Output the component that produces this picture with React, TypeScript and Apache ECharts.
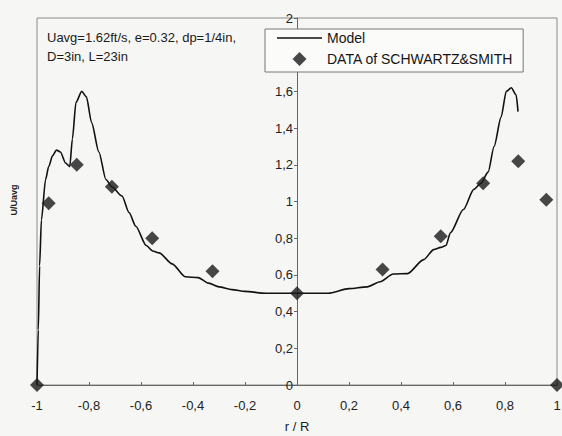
import React, { useEffect, useRef } from "react";
import * as echarts from "echarts";

const xTickLabels = ["-1", "-0,8", "-0,6", "-0,4", "-0,2", "0", "0,2", "0,4", "0,6", "0,8", "1"];
const yTickLabels = ["0", "0,2", "0,4", "0,6", "0,8", "1", "1,2", "1,4", "1,6", "1,8", "2"];

const modelR = [
  -1, -0.995, -0.99, -0.983, -0.967, -0.955, -0.94, -0.925, -0.91, -0.89, -0.874, -0.864,
  -0.85, -0.828, -0.81, -0.79, -0.762, -0.735, -0.712, -0.673, -0.646, -0.62, -0.58,
  -0.555, -0.53, -0.48, -0.43, -0.38, -0.34, -0.3, -0.25, -0.2, -0.12, 0, 0.12, 0.2,
  0.27, 0.32, 0.37, 0.425, 0.487, 0.526, 0.553, 0.573, 0.59, 0.64, 0.68, 0.708, 0.735,
  0.758, 0.785, 0.805, 0.824, 0.843, 0.85,
];
const modelU = [
  0, 0.3, 0.65, 0.9, 1.12, 1.19, 1.25, 1.28, 1.27, 1.21, 1.19, 1.34,
  1.54, 1.6, 1.57, 1.43, 1.27, 1.12, 1.08, 1.03, 0.94, 0.865, 0.76,
  0.73, 0.72, 0.66, 0.59, 0.585, 0.555, 0.535, 0.52, 0.51, 0.5, 0.5, 0.5, 0.525,
  0.535, 0.563, 0.605, 0.607, 0.683, 0.738, 0.75, 0.76, 0.83, 0.956, 1.066, 1.1, 1.16,
  1.3, 1.46, 1.6, 1.62, 1.58, 1.49,
];

const dataR = [-1, -0.955, -0.847, -0.712, -0.557, -0.325, 0, 0.329, 0.553, 0.716, 0.851, 0.959, 1];
const dataU = [0, 0.99, 1.2, 1.08, 0.8, 0.62, 0.5, 0.63, 0.81, 1.1, 1.22, 1.01, 0];

const FONT = "Liberation Sans, Arial, sans-serif";

export default function App() {
  const ref = useRef<HTMLDivElement>(null);
  useEffect(() => {
    if (!ref.current) return;
    const chart = echarts.init(ref.current, null, { renderer: "svg" });
    chart.setOption({
      animation: false,
      backgroundColor: "#f6f6f4",
      textStyle: { fontFamily: FONT },
      grid: {
        left: 37,
        right: 5,
        top: 18,
        bottom: 51,
        containLabel: false,
        outerBoundsMode: "none",
        show: true,
        borderColor: "#8a8a8a",
        borderWidth: 1,
        backgroundColor: "transparent",
      },
      legend: {
        orient: "vertical",
        left: 265,
        top: 29,
        itemWidth: 45,
        itemHeight: 14,
        itemGap: 7,
        padding: [2, 10, 6, 12],
        backgroundColor: "#fbfbfa",
        borderColor: "#777",
        borderWidth: 1,
        borderRadius: 0,
        textStyle: { fontFamily: FONT, fontSize: 14, color: "#151515" },
        data: [
          { name: "Model", icon: "path://M0,0h45v1.6h-45z" },
          { name: "DATA of SCHWARTZ&SMITH", icon: "path://M6,0L12,6L6,12L0,6Z" },
        ],
      },
      xAxis: {
        type: "value",
        min: -1,
        max: 1,
        interval: 0.2,
        name: "r / R",
        nameLocation: "middle",
        nameGap: 35,
        nameTextStyle: { fontFamily: FONT, fontSize: 13, color: "#222" },
        axisLine: { onZero: false, lineStyle: { color: "#666", width: 1 } },
        axisTick: { show: true, inside: true, length: 3, lineStyle: { color: "#666" } },
        splitLine: { show: false },
        axisLabel: {
          fontFamily: FONT,
          fontSize: 13,
          color: "#222",
          margin: 14,
          formatter: (_v: number, i: number) => xTickLabels[i] ?? "",
        },
      },
      yAxis: {
        type: "value",
        min: 0,
        max: 2,
        interval: 0.2,
        position: "left",
        offset: -260,
        axisLine: { show: true, onZero: false, lineStyle: { color: "#666", width: 1 } },
        axisTick: { show: true, length: 3, lineStyle: { color: "#666" } },
        splitLine: { show: false },
        axisLabel: {
          fontFamily: FONT,
          fontSize: 13,
          color: "#222",
          margin: 4,
          formatter: (_v: number, i: number) => yTickLabels[i] ?? "",
        },
      },
      graphic: [
        {
          type: "text",
          left: 47,
          top: 31,
          style: { text: "Uavg=1.62ft/s, e=0.32, dp=1/4in,", font: `13px ${FONT}`, fill: "#1a1a1a" },
        },
        {
          type: "text",
          left: 47,
          top: 50,
          style: { text: "D=3in, L=23in", font: `13px ${FONT}`, fill: "#1a1a1a" },
        },
        {
          type: "text",
          x: 14,
          y: 200,
          rotation: Math.PI / 2,
          style: {
            text: "U/Uavg",
            font: `bold 9px ${FONT}`,
            fill: "#222",
            align: "center",
            verticalAlign: "middle",
          },
        },
      ],
      series: [
        {
          name: "Model",
          type: "line",
          data: modelR.map((r, i) => [r, modelU[i]]),
          symbol: "none",
          smooth: 0.25,
          smoothMonotone: "x",
          lineStyle: { color: "#111", width: 1.6 },
          itemStyle: { color: "#111" },
          z: 2,
        },
        {
          name: "DATA of SCHWARTZ&SMITH",
          type: "scatter",
          data: dataR.map((r, i) => [r, dataU[i]]),
          symbol: "diamond",
          symbolSize: 14,
          itemStyle: { color: "#1a1a1a" },
          z: 3,
        },
      ],
    });
    return () => chart.dispose();
  }, []);
  return <div ref={ref} style={{ position: "fixed", left: 0, top: 0, width: 562, height: 436 }} />;
}
